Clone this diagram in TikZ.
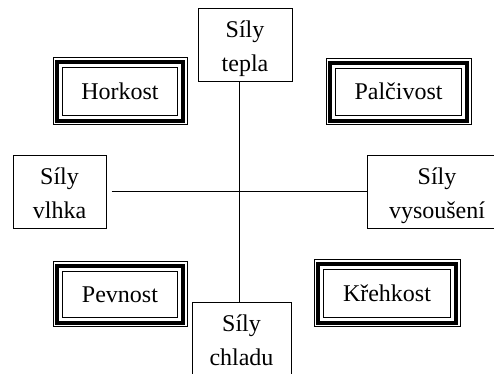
\documentclass[tikz,border=0pt]{standalone}
\usepackage{fontspec}
\setmainfont{Liberation Serif}
\begin{document}
\begin{tikzpicture}[x=0.75pt,y=-0.75pt,
  every node/.style={font=\fontsize{18}{25.5}\selectfont, align=center, inner sep=0pt},
  plainbox/.style={draw, line width=0.75pt, text height=39pt, text depth=0pt},
  frm/.style={draw, line width=0.75pt, text height=12pt, text depth=0pt,
    path picture={
      \draw[line width=2.8pt]
        ([shift={(2.8pt,-2.8pt)}]path picture bounding box.north west) rectangle
        ([shift={(-2.8pt,2.8pt)}]path picture bounding box.south east);
      \draw[line width=0.75pt]
        ([shift={(7pt,-7pt)}]path picture bounding box.north west) rectangle
        ([shift={(-7pt,7pt)}]path picture bounding box.south east);
    }},
  conn/.style={line width=0.75pt}]
\useasboundingbox (0,0) rectangle (494,374);

\node[plainbox, minimum width={94*0.75pt}, minimum height={73*0.75pt}] (tepla) at (245,45.5) {Síly\\tepla};
\node[plainbox, minimum width={93*0.75pt}, minimum height={73*0.75pt}] (vlhka) at (59.5,192.5) {Síly\\vlhka};
\node[plainbox, minimum width={140*0.75pt}, minimum height={73*0.75pt}] (vysouseni) at (437,192.5) {Síly\\vysoušení};
\node[plainbox, minimum width={99*0.75pt}, minimum height={73*0.75pt}] (chladu) at (241.5,339.5) {Síly\\chladu};

\node[frm, minimum width={134*0.75pt}, minimum height={67*0.75pt}] (horkost) at (120,91.5) {Horkost};
\node[frm, minimum width={145*0.75pt}, minimum height={66*0.75pt}] (palcivost) at (398.5,92) {Palčivost};
\node[frm, minimum width={134*0.75pt}, minimum height={65*0.75pt}] (pevnost) at (120,294.5) {Pevnost};
\node[frm, minimum width={146*0.75pt}, minimum height={67*0.75pt}] (krehkost) at (387,293.5) {Křehkost};

\coordinate (c) at (239,192);
\draw[conn] (c |- tepla.south) -- (c |- chladu.north);
\draw[conn] ([xshift=3.75pt]vlhka.east |- c) -- (vysouseni.west |- c);
\end{tikzpicture}
\end{document}
